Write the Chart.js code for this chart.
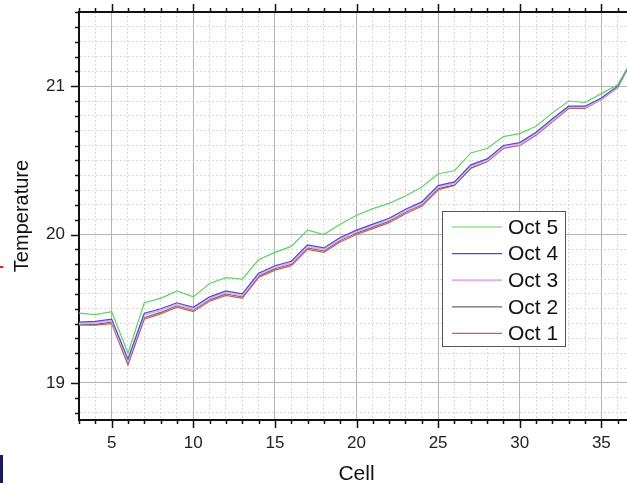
<!DOCTYPE html>
<html>
<head>
<meta charset="utf-8">
<script src="https://cdn.jsdelivr.net/npm/chart.js@4/dist/chart.umd.min.js"></script>
<style>
    html, body { margin: 0; padding: 0; background: #fff; overflow: hidden; }
    #wrap { width: 640px; height: 485px; }
</style>
</head>
<body>
<div id="wrap"><canvas id="chart" width="640" height="485"></canvas></div>
<script>
const cells = [3, 4, 5, 6, 7, 8, 9, 10, 11, 12, 13, 14, 15, 16, 17, 18, 19, 20,
    21, 22, 23, 24, 25, 26, 27, 28, 29, 30, 31, 32, 33, 34, 35, 36, 37]

const oct5 = [19.47, 19.46, 19.48, 19.20, 19.54, 19.57, 19.62, 19.58, 19.67, 19.71, 19.70, 19.83,
    19.88, 19.92, 20.03, 20.00, 20.07, 20.13, 20.175, 20.21, 20.26, 20.32, 20.41, 20.43,
    20.55, 20.58, 20.66, 20.68, 20.73, 20.82, 20.90, 20.89, 20.95, 21.01, 21.20]
const oct4 = [19.41, 19.415, 19.43, 19.16, 19.47, 19.50, 19.54, 19.51, 19.58, 19.62, 19.60, 19.74,
    19.79, 19.82, 19.93, 19.91, 19.98, 20.03, 20.07, 20.11, 20.17, 20.22, 20.33, 20.355,
    20.47, 20.51, 20.60, 20.62, 20.69, 20.78, 20.865, 20.865, 20.92, 21.00, 21.20]
const oct3 = [19.40, 19.405, 19.42, 19.15, 19.46, 19.49, 19.53, 19.50, 19.57, 19.61, 19.59, 19.73,
    19.78, 19.81, 19.92, 19.90, 19.97, 20.02, 20.06, 20.10, 20.16, 20.21, 20.32, 20.345,
    20.46, 20.50, 20.59, 20.61, 20.68, 20.77, 20.86, 20.86, 20.915, 20.995, 21.20]
const oct2 = [19.395, 19.395, 19.41, 19.13, 19.44, 19.475, 19.52, 19.49, 19.56, 19.60, 19.58, 19.72,
    19.77, 19.80, 19.91, 19.89, 19.96, 20.01, 20.05, 20.09, 20.15, 20.20, 20.31, 20.335,
    20.45, 20.495, 20.585, 20.605, 20.675, 20.765, 20.855, 20.855, 20.912, 20.99, 21.20]
const oct1 = [19.39, 19.39, 19.40, 19.12, 19.43, 19.465, 19.51, 19.48, 19.55, 19.59, 19.57, 19.71,
    19.76, 19.79, 19.90, 19.88, 19.95, 20.00, 20.04, 20.08, 20.14, 20.19, 20.30, 20.33,
    20.445, 20.49, 20.58, 20.60, 20.67, 20.76, 20.85, 20.85, 20.91, 20.99, 21.20]

const seriesNames = ['Oct 5', 'Oct 4', 'Oct 3', 'Oct 2', 'Oct 1']
const seriesValues = [oct5, oct4, oct3, oct2, oct1]
const seriesColors = ['#5fd35f', '#4b4bd8', '#e8aee8', '#6a6a6a', '#d45a5a']
const seriesWidths = [1.2, 1.2, 2, 1.2, 1.2]

const xTickLabels = [5, 10, 15, 20, 25, 30, 35]
const yTickLabels = [19, 20, 21]

const FONT = "'Liberation Sans', Arial, sans-serif"

function isMajor(v, list) {
    return list.some(t => Math.abs(t - v) < 1e-6)
}

// tick marks + top frame + legend box, drawn like the original software does
const decor = {
    id: 'decor',
    afterDraw(chart) {
        const ctx = chart.ctx
        const area = chart.chartArea
        const xs = chart.scales.x
        const ys = chart.scales.y
        ctx.save()
        ctx.strokeStyle = '#111'
        ctx.lineWidth = 1.5
        xs.ticks.forEach(t => {
            const px = Math.round(xs.getPixelForValue(t.value)) + 0.5
            const len = (Math.abs(t.value % 5) < 1e-6) ? 8 : 4
            ctx.beginPath()
            ctx.moveTo(px, area.bottom)
            ctx.lineTo(px, area.bottom + len)
            ctx.moveTo(px, area.top)
            ctx.lineTo(px, area.top - len)
            ctx.stroke()
        })
        ys.ticks.forEach(t => {
            const py = Math.round(ys.getPixelForValue(t.value)) + 0.5
            const len = isMajor(t.value, yTickLabels) ? 8 : 4
            ctx.beginPath()
            ctx.moveTo(area.left, py)
            ctx.lineTo(area.left - len, py)
            ctx.stroke()
        })
        // top frame line
        ctx.lineWidth = 2
        ctx.beginPath()
        ctx.moveTo(area.left - 1, area.top)
        ctx.lineTo(area.right, area.top)
        ctx.stroke()

        // legend
        const bx = 442, by = 211, bw = 123, bh = 135
        ctx.fillStyle = '#fff'
        ctx.fillRect(bx, by, bw, bh)
        ctx.strokeStyle = '#555'
        ctx.lineWidth = 1
        ctx.strokeRect(bx + 0.5, by + 0.5, bw, bh)
        ctx.font = '21px ' + FONT
        ctx.textBaseline = 'middle'
        ctx.textAlign = 'left'
        chart.data.datasets.forEach((ds, i) => {
            const ly = by + 16 + i * 26.6
            ctx.strokeStyle = ds.borderColor
            ctx.lineWidth = ds.borderWidth
            ctx.beginPath()
            ctx.moveTo(bx + 10, ly)
            ctx.lineTo(bx + 60, ly)
            ctx.stroke()
            ctx.fillStyle = '#111'
            ctx.fillText(ds.label, bx + 66, ly + 1)
        })

        // screenshot crop leftovers at the left edge
        ctx.fillStyle = '#e02020'
        ctx.fillRect(0, 266, 3, 2)
        ctx.fillStyle = '#1a1a5a'
        ctx.fillRect(0, 455, 3, 28)
        ctx.restore()
    }
}

const ctx = document.getElementById('chart').getContext('2d')
const chart = new Chart(ctx, {
    type: 'line',
    data: {
        datasets: seriesNames.map((name, i) => ({
            label: name,
            data: cells.map((c, j) => ({x: c, y: seriesValues[i][j]})),
            borderColor: seriesColors[i],
            backgroundColor: seriesColors[i],
            borderWidth: seriesWidths[i],
            pointRadius: 0,
            tension: 0,
            fill: false,
        }))
    },
    options: {
        responsive: false,
        animation: false,
        devicePixelRatio: 1,
        layout: {
            padding: {top: 12, right: 6, left: 0, bottom: 0}
        },
        scales: {
            x: {
                type: 'linear',
                min: 3,
                max: 37,
                afterFit: (scale) => {
                    scale.height = 65
                    scale.paddingLeft = 0
                    scale.paddingRight = 0
                },
                ticks: {
                    stepSize: 1,
                    autoSkip: false,
                    maxRotation: 0,
                    includeBounds: false,
                    padding: 13,
                    color: '#222',
                    font: {family: FONT, size: 17},
                    callback: (v) => isMajor(v, xTickLabels) ? String(v) : '',
                },
                grid: {
                    drawTicks: false,
                    lineWidth: 1,
                    color: (c) => (c.tick && isMajor(c.tick.value, xTickLabels)) ? '#b4b4b4' : '#dadada',
                },
                border: {
                    display: true,
                    color: '#111',
                    width: 2,
                    dash: (c) => (c.tick && isMajor(c.tick.value, xTickLabels)) ? [] : [2, 2],
                },
                title: {
                    display: true,
                    text: 'Cell',
                    color: '#111',
                    font: {family: FONT, size: 21, lineHeight: 1},
                    padding: {top: 0, bottom: 0},
                },
            },
            y: {
                min: 18.75,
                max: 21.5,
                afterFit: (scale) => {
                    scale.width = 79
                    scale.paddingTop = 0
                    scale.paddingBottom = 0
                },
                ticks: {
                    stepSize: 0.1,
                    autoSkip: false,
                    includeBounds: false,
                    padding: 14,
                    color: '#222',
                    font: {family: FONT, size: 17},
                    callback: (v) => isMajor(v, yTickLabels) ? String(Math.round(v)) : '',
                },
                grid: {
                    drawTicks: false,
                    lineWidth: 1,
                    color: (c) => (c.tick && isMajor(c.tick.value, yTickLabels)) ? '#b4b4b4' : '#dadada',
                },
                border: {
                    display: true,
                    color: '#111',
                    width: 2,
                    dash: (c) => (c.tick && isMajor(c.tick.value, yTickLabels)) ? [] : [2, 2],
                },
                title: {
                    display: true,
                    text: 'Temperature',
                    color: '#111',
                    font: {family: FONT, size: 20, lineHeight: 1},
                    padding: {top: 12, bottom: 0},
                },
            },
        },
        plugins: {
            legend: {display: false},
            tooltip: {enabled: false},
        }
    },
    plugins: [decor]
});
</script>
</body>
</html>
